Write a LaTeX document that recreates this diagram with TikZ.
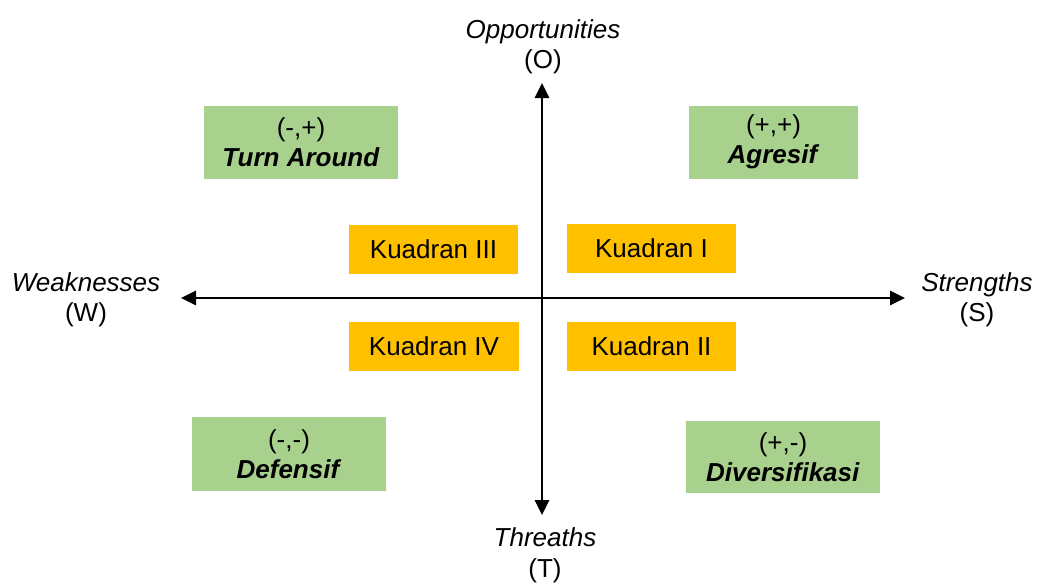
\documentclass[tikz,border=0pt]{standalone}
\usepackage{fontspec}
\setmainfont{Liberation Sans}
\usetikzlibrary{arrows.meta}
\definecolor{quadgold}{HTML}{FFC000}
\definecolor{stratgreen}{HTML}{A9D18E}
\begin{document}
\begin{tikzpicture}[x=1pt,y=-1pt,
  txt/.style={font=\fontsize{26}{30.5}\selectfont},
  lbl/.style={txt, align=center, inner sep=0pt},
  quad/.style={txt, fill=quadgold, minimum width=169pt, minimum height=49pt, inner sep=0pt},
  strat/.style={txt, fill=stratgreen, align=center, minimum height=73pt, inner sep=0pt},
  axis/.style={line width=2.8pt, {Triangle[length=15pt,width=14pt]}-{Triangle[length=15pt,width=14pt]}}]
\useasboundingbox (0,0) rectangle (1038,582);

% axis end points
\coordinate (wend) at (181,298);
\coordinate (send) at (905,298);
\coordinate (oend) at (542,83);
\coordinate (tend) at (542,515);

\draw[axis] (wend) -- (send);
\draw[axis] (oend) -- (tend);

% axis labels
\node[lbl] (opp) at (543,47) {\textit{Opportunities}\\(O)};
\node[lbl] (weak) at (86,300) {\textit{Weaknesses}\\(W)};
\node[lbl] (str) at (977,300) {\textit{Strengths}\\(S)};
\node[lbl] (thr) at (545,555.5) {\textit{Threaths}\\(T)};

% quadrants
\node[quad] (q3) at (433.5,249.5) {Kuadran III};
\node[quad] (q1) at (651.5,248.5) {Kuadran I};
\node[quad, minimum width=170pt] (q4) at (434,346.5) {Kuadran IV};
\node[quad] (q2) at (651.5,346.5) {Kuadran II};

% strategies
\node[strat, minimum width=194pt] (turn) at (301,142) {(-,+)\\\textbf{\textit{Turn Around}}};
\node[strat, minimum width=169pt] (agr) at (773.5,142) {(+,+)\\\textbf{\textit{Agresif}}};
\node[strat, minimum width=194pt, minimum height=74pt] (def) at (289,454) {(-,-)\\\textbf{\textit{Defensif}}};
\node[strat, minimum width=194pt, minimum height=72pt] (div) at (783,457) {(+,-)\\\textbf{\textit{Diversifikasi}}};
\end{tikzpicture}
\end{document}
